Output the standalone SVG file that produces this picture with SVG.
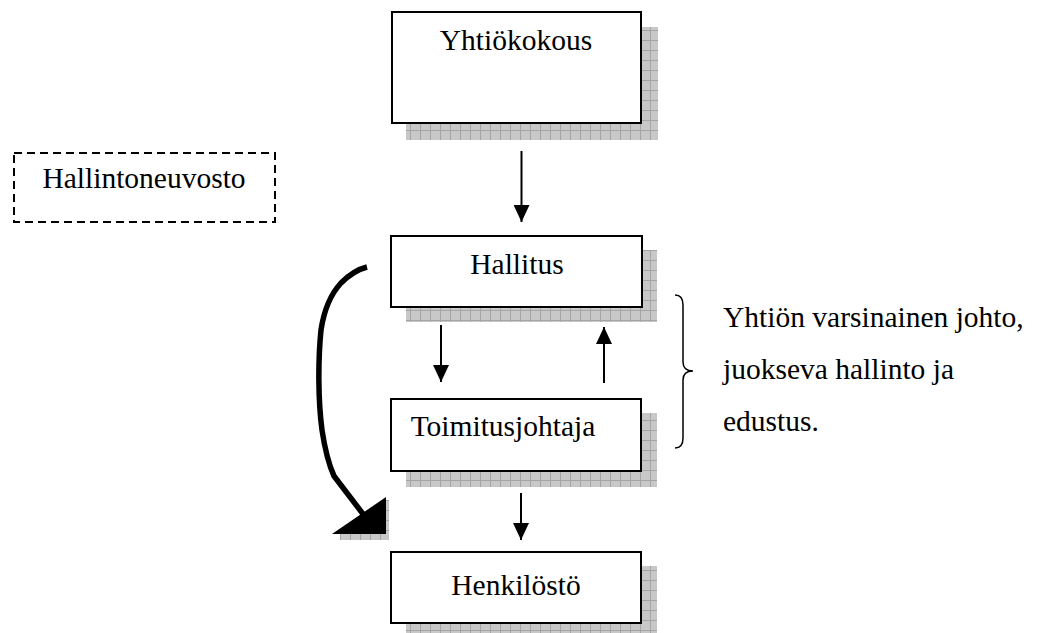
<svg xmlns="http://www.w3.org/2000/svg" width="1041" height="633" viewBox="0 0 1041 633">
<defs>
<style>
.box{fill:#fff;stroke:#000;stroke-width:2}
.shadow{fill:url(#grid)}
.t{font-size:29.5px;fill:#000}
.c{text-anchor:middle}
.line{stroke:#000;stroke-width:2;fill:none}
</style>
<pattern id="grid" patternUnits="userSpaceOnUse" width="10" height="10">
<rect width="10" height="10" fill="#c8c8c8"/>
<path d="M0 0.5H10M0.5 0V10" stroke="#a4a4a4" stroke-width="1" fill="none"/>
</pattern>
<marker id="ah" markerUnits="userSpaceOnUse" markerWidth="18" markerHeight="16" refX="17" refY="8" orient="auto" viewBox="0 0 18 16">
<path d="M0 0L17 8L0 16Z" fill="#000"/>
</marker>
</defs>
<g font-family="'Liberation Serif', 'Times New Roman', Times, serif">
<g id="yhtiokokous">
<rect class="shadow" x="406" y="27" width="252" height="113"/>
<rect class="box" x="392" y="12" width="249" height="111"/>
<text class="t c" x="516" y="50">Yhtiökokous</text>
</g>
<g id="hallintoneuvosto">
<rect x="14" y="153" width="261" height="69" fill="none" stroke="#000" stroke-width="2" stroke-dasharray="8,5"/>
<text class="t c" x="144" y="188">Hallintoneuvosto</text>
</g>
<g id="hallitus">
<rect class="shadow" x="406" y="250" width="251" height="72"/>
<rect class="box" x="391" y="236" width="251" height="71"/>
<text class="t c" x="517" y="274">Hallitus</text>
</g>
<g id="toimitusjohtaja">
<rect class="shadow" x="406" y="413" width="251" height="74"/>
<rect class="box" x="391" y="399" width="250" height="72"/>
<text class="t c" x="503" y="436">Toimitusjohtaja</text>
</g>
<g id="henkilosto">
<rect class="shadow" x="406" y="566" width="251" height="74"/>
<rect class="box" x="391" y="552" width="250" height="71"/>
<text class="t c" x="516" y="595">Henkilöstö</text>
</g>
<g id="connectors">
<line class="line" x1="521.5" y1="151" x2="521.5" y2="222" marker-end="url(#ah)"/>
<line class="line" x1="441" y1="325" x2="441" y2="382" marker-end="url(#ah)"/>
<line class="line" x1="604" y1="383" x2="604" y2="327" marker-end="url(#ah)"/>
<line class="line" x1="521" y1="493" x2="521" y2="540" marker-end="url(#ah)"/>
<path d="M367 267C355 270 348 276 341 283C330 295 324 310 321 330C318 360 318 400 322 430C325 450 329 465 334 476L363 514" fill="none" stroke="#000" stroke-width="5.5" stroke-linejoin="round"/>
<path d="M340 534H386V500H389V540H340Z" fill="url(#grid)"/>
<path d="M386 497L332 534L386 534Z" fill="#000"/>
</g>
<g id="brace">
<path d="M675 295C681 295 683 299 683 305V362C683 368 687 371 693 371C687 371 683 374 683 380V438C683 444 681 448 675 448" fill="none" stroke="#000" stroke-width="1.5"/>
<text class="t" x="723" y="327">Yhtiön varsinainen johto,</text>
<text class="t" x="723" y="379">juokseva hallinto ja</text>
<text class="t" x="723" y="431">edustus.</text>
</g>
</g>
</svg>
